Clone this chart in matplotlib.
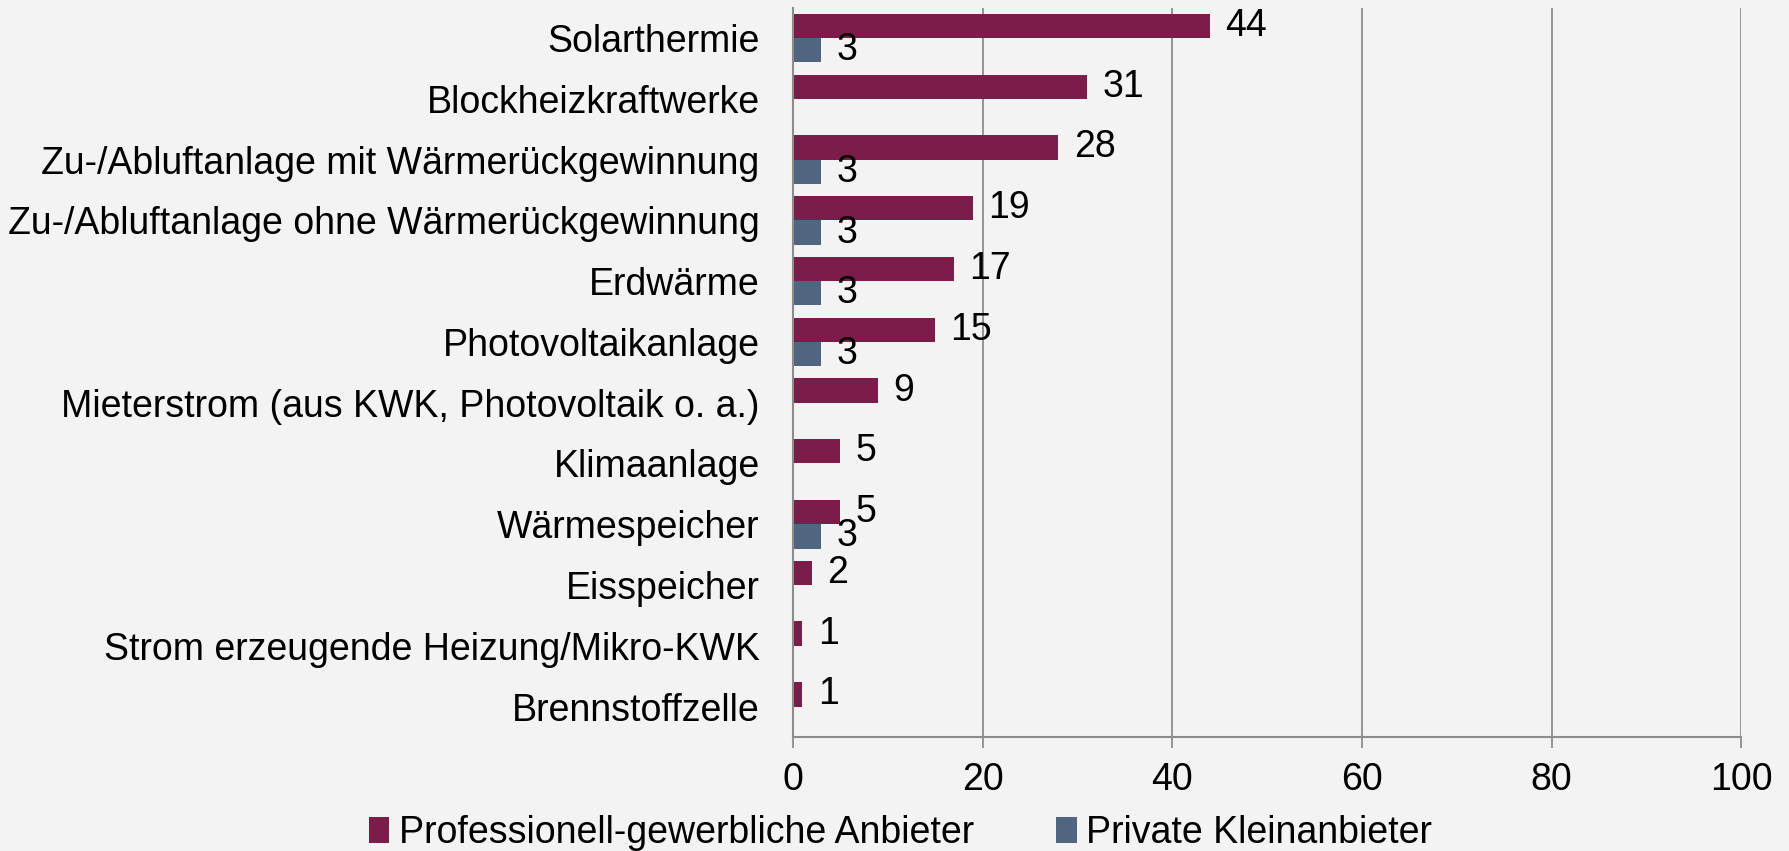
import numpy as np
import matplotlib
matplotlib.use("Agg")
import matplotlib.pyplot as plt

categories = [
    "Solarthermie",
    "Blockheizkraftwerke",
    "Zu-/Abluftanlage mit Wärmerückgewinnung",
    "Zu-/Abluftanlage ohne Wärmerückgewinnung",
    "Erdwärme",
    "Photovoltaikanlage",
    "Mieterstrom (aus KWK, Photovoltaik o. a.)",
    "Klimaanlage",
    "Wärmespeicher",
    "Eisspeicher",
    "Strom erzeugende Heizung/Mikro-KWK",
    "Brennstoffzelle",
]
professionell = [44, 31, 28, 19, 17, 15, 9, 5, 5, 2, 1, 1]
privat = [3, 0, 3, 3, 3, 3, 0, 0, 3, 0, 0, 0]
series_names = ["Professionell-gewerbliche Anbieter", "Private Kleinanbieter"]
xticks = [0, 20, 40, 60, 80, 100]

maroon = "#7b1c4a"
blue = "#4f6580"
bg = "#f3f3f3"
grid = "#8c8c8c"

plt.rcParams["font.family"] = ["Liberation Sans", "DejaVu Sans"]
fs = 27

fig = plt.figure(figsize=(17.9, 8.51), dpi=100, facecolor=bg)
ax = fig.add_axes([0.443, 0.134, 0.5297, 0.857], facecolor=bg)

y = np.arange(len(categories))
h = 0.4
b1 = ax.barh(y - h / 2, professionell, height=h, color=maroon, label=series_names[0])
b2 = ax.barh(y + h / 2, privat, height=h, color=blue, label=series_names[1])

# value labels, skip empty bars
for bars, vals in ((b1, professionell), (b2, privat)):
    for rect, v in zip(bars, vals):
        if v == 0:
            continue
        ax.annotate(str(v), (v, rect.get_y() + rect.get_height() / 2),
                    xytext=(11, 0), textcoords="offset points",
                    va="center", ha="left", fontsize=fs, color="black")

ax.set_xlim(0, 100)
ax.set_ylim(len(categories) - 0.5, -0.5)
ax.set_xticks(xticks)
ax.set_yticks(y)
ax.set_yticklabels(categories)
ax.tick_params(axis="y", length=0, pad=24, labelsize=fs)
ax.tick_params(axis="x", length=8, width=1.3, color=grid, pad=10, labelsize=fs)
ax.xaxis.grid(True, color=grid, linewidth=1.3)
ax.set_axisbelow(True)
for s in ("top", "right"):
    ax.spines[s].set_visible(False)
for s in ("left", "bottom"):
    ax.spines[s].set_color(grid)
    ax.spines[s].set_linewidth(1.5)

fig.legend(handles=[b1, b2], loc="lower center", bbox_to_anchor=(0.503, -0.04),
           ncol=2, frameon=False, fontsize=fs, handlelength=0.55, handleheight=0.7,
           handletextpad=0.25, columnspacing=2.2)

fig.savefig("out.png", dpi=100, facecolor=bg)
